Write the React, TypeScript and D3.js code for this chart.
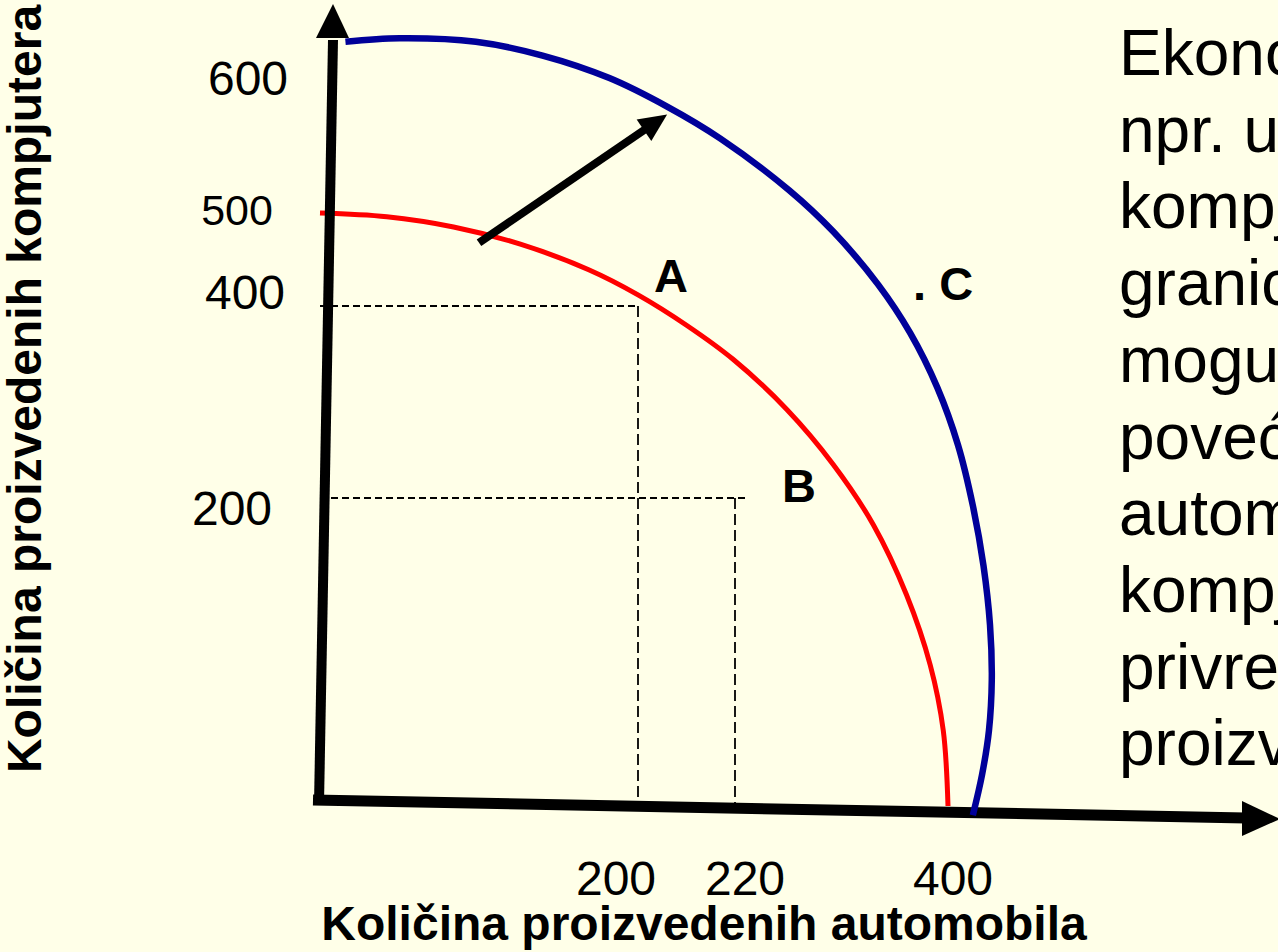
import React from "react";
import * as d3 from "d3";

const W = 1278;
const H = 952;

// axis tick labels
const xTickValues = [200, 220, 400];
const yTickValues = [600, 500, 400, 200];

// production possibility frontiers: [cars, computers]
const ppfInitial: [number, number][] = [
  [0, 500], [42, 496], [84, 485], [126, 466.5], [169, 439], [200, 412],
  [210, 380], [219.6, 344.5], [264, 292], [303, 235], [337, 182.5],
  [365, 137], [385, 91.5], [396, 49], [400, 0],
];
const ppfShifted: [number, number][] = [
  [16, 599], [50, 601], [98, 599], [140, 591], [182, 578], [206, 561.5],
  [217, 543], [266, 513], [303, 480], [341, 423], [368, 372], [391, 315],
  [408.5, 255], [421, 195], [430, 156], [435.5, 117.5], [437, 82],
  [434.6, 49], [428.7, 20], [421, -6],
];

// marked combinations
const pointNames = ["A", "B", "C"];
const pointCars = [200, 220, 376];
const pointComputers = [400, 200, 410];

// shift arrow (from old frontier to new one)
const shiftFrom: [number, number] = [100, 468];
const shiftTo: [number, number] = [206, 557];

const xTitle = "Količina proizvedenih automobila";
const yTitle = "Količina proizvedenih kompjutera";

const explanation = [
  "Ekonomski rast, kao",
  "npr. unapređenje tehnologija",
  "kompjuterske proizvodnje, pomiče",
  "granicu proizvodnih",
  "mogućnosti prema van i",
  "povećava proizvodnju",
  "automobila i",
  "kompjutera, tako da",
  "privreda može više",
  "proizvoditi.",
];

const FONT = "'Liberation Sans', Arial, Helvetica, sans-serif";
const BG = "#FFFFE8";

export default function App() {
  // hand-drawn slide: unequal spacing between labelled values
  const x = d3.scaleLinear().domain([0, 200, 220, 400]).range([320, 638, 735, 948]);
  const y = d3.scaleLinear().domain([0, 200, 400, 500, 600]).range([806, 498, 306, 213, 40]);
  const xLab = d3.scaleLinear().domain([200, 220, 400]).range([616, 745, 953]);
  const yLab = d3.scaleLinear().domain([200, 400, 500, 600]).range([525, 309, 225, 95]);
  const yLabX: Record<number, number> = { 600: 248, 500: 237, 400: 245, 200: 232 };
  const yLabSize: Record<number, number> = { 600: 48, 500: 43, 400: 48, 200: 48 };

  const line = d3
    .line<[number, number]>()
    .x((d) => x(d[0]))
    .y((d) => y(d[1]))
    .curve(d3.curveCatmullRom.alpha(0.5));

  // axes (slightly tilted as in the slide)
  const yAxisBottom = [319, 804];
  const yAxisTop = [333, 36];
  const yHeadTip = [333, 4];
  const xAxisLeft = [313, 800];
  const xAxisRight = [1244, 818];
  const xHeadTip = [1280, 819];

  // shift arrow geometry
  const ax0 = x(shiftFrom[0]);
  const ay0 = y(shiftFrom[1]);
  const ax1 = x(shiftTo[0]);
  const ay1 = y(shiftTo[1]);
  const len = Math.hypot(ax1 - ax0, ay1 - ay0);
  const ux = (ax1 - ax0) / len;
  const uy = (ay1 - ay0) / len;
  const headL = 28;
  const headW = 13;
  const bx = ax1 - ux * headL;
  const by = ay1 - uy * headL;
  const arrowHead = `${ax1},${ay1} ${bx - uy * headW},${by + ux * headW} ${bx + uy * headW},${by - ux * headW}`;

  const dash = "7,4";

  return (
    <svg
      width={W}
      height={H}
      viewBox={`0 0 ${W} ${H}`}
      style={{ position: "absolute", left: 0, top: 0, display: "block", background: BG }}
    >
      <rect x={0} y={0} width={W} height={H} fill={BG} />

      {/* dashed guide lines */}
      <g stroke="#000" strokeWidth={1.8} strokeDasharray={dash} fill="none">
        <line x1={x(0)} y1={y(400)} x2={x(200)} y2={y(400)} />
        <line x1={x(200)} y1={y(400)} x2={x(200)} y2={y(0)} strokeDasharray="11,5" />
        <line x1={x(0)} y1={y(200)} x2={x(220) + 10} y2={y(200)} />
        <line x1={x(220)} y1={y(200)} x2={x(220)} y2={y(0)} strokeDasharray="11,5" />
      </g>

      {/* initial frontier */}
      <path d={line(ppfInitial) ?? ""} fill="none" stroke="#FF0000" strokeWidth={5} />

      {/* axes */}
      <g fill="#000">
        <line x1={yAxisBottom[0]} y1={yAxisBottom[1]} x2={yAxisTop[0]} y2={yAxisTop[1] + 4} stroke="#000" strokeWidth={10} />
        <polygon points={`${yHeadTip[0]},${yHeadTip[1]} ${yAxisTop[0] - 17},${yAxisTop[1] + 2} ${yAxisTop[0] + 16},${yAxisTop[1] + 2}`} />
        <line x1={xAxisLeft[0]} y1={xAxisLeft[1]} x2={xAxisRight[0] + 2} y2={xAxisRight[1]} stroke="#000" strokeWidth={11} />
        <polygon points={`${xHeadTip[0]},${xHeadTip[1]} ${xAxisRight[0] - 2},${xAxisRight[1] - 17} ${xAxisRight[0] - 2},${xAxisRight[1] + 18}`} />
      </g>

      {/* shifted frontier */}
      <path d={line(ppfShifted) ?? ""} fill="none" stroke="#000099" strokeWidth={6.5} />

      {/* shift arrow */}
      <line x1={ax0} y1={ay0} x2={bx + ux * 2} y2={by + uy * 2} stroke="#000" strokeWidth={8} />
      <polygon points={arrowHead} fill="#000" />

      {/* point labels */}
      <g fontFamily={FONT} fontWeight="bold" fontSize={47} fill="#000">
        <text x={x(pointCars[0]) + 33} y={y(pointComputers[0]) - 14} textAnchor="middle">{pointNames[0]}</text>
        <text x={x(pointCars[1]) + 64} y={y(pointComputers[1]) + 4} textAnchor="middle">{pointNames[1]}</text>
        <text x={x(pointCars[2]) - 6.5} y={y(pointComputers[2]) + 3} textAnchor="start">{". " + pointNames[2]}</text>
      </g>

      {/* tick labels */}
      <g fontFamily={FONT} fill="#000">
        {xTickValues.map((v) => (
          <text key={"x" + v} x={xLab(v)} y={895} fontSize={48} textAnchor="middle">{v}</text>
        ))}
        {yTickValues.map((v) => (
          <text key={"y" + v} x={yLabX[v]} y={yLab(v)} fontSize={yLabSize[v]} textAnchor="middle">{v}</text>
        ))}
      </g>

      {/* axis titles */}
      <text x={704} y={940} fontFamily={FONT} fontWeight="bold" fontSize={48} textAnchor="middle" fill="#000">{xTitle}</text>
      <text transform="translate(41,389) rotate(-90)" fontFamily={FONT} fontWeight="bold" fontSize={48} textAnchor="middle" fill="#000">{yTitle}</text>

      {/* explanation text (clipped by the slide edge) */}
      <g fontFamily={FONT} fontSize={64} fill="#000">
        {explanation.map((t, i) => (
          <text key={i} x={1119} y={75 + i * 76.7}>{t}</text>
        ))}
      </g>
    </svg>
  );
}
